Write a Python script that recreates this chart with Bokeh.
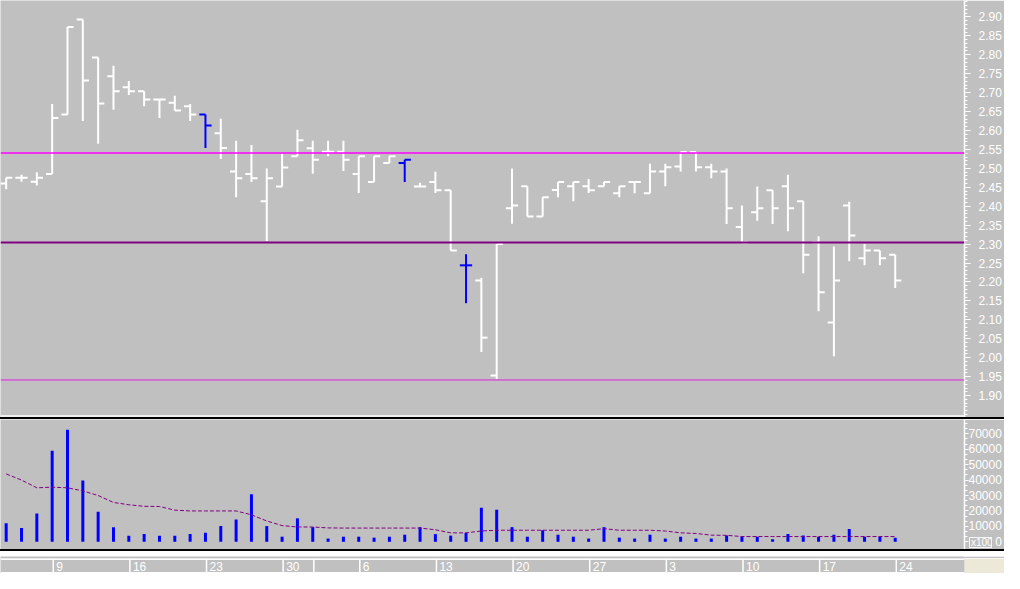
from bokeh.plotting import figure
from bokeh.layouts import column
from bokeh.models import (Range1d, Span, FixedTicker, PrintfTickFormatter, Div,
                          ColumnDataSource, CustomJSTickFormatter)
from bokeh.embed import file_html
from bokeh.resources import INLINE
from bokeh.core.properties import value

# ---------------- data ----------------
opens = [2.46, 2.475, 2.465, 2.485, 2.642, 2.893, 2.793, 2.743, 2.714, 2.704,
         2.682, 2.673, 2.664, 2.642, 2.593, 2.492, 2.485, 2.413, 2.452, 2.532,
         2.553, 2.544, 2.544, 2.485, 2.464, 2.514, 2.514, 2.452, 2.464, 2.442,
         2.244, 2.204, 1.953, 2.395, 2.453, 2.373, 2.443, 2.453, 2.453, 2.453,
         2.434, 2.464, 2.434, 2.492, 2.505, 2.543, 2.503, 2.492, 2.345, 2.384,
         2.442, 2.453, 2.413, 2.304, 2.093, 2.402, 2.263, 2.283, 2.272]
highs = [2.475, 2.483, 2.49, 2.67, 2.873, 2.893, 2.793, 2.771, 2.731, 2.704,
         2.682, 2.692, 2.670, 2.642, 2.631, 2.573, 2.562, 2.50, 2.539, 2.602,
         2.573, 2.573, 2.573, 2.532, 2.532, 2.532, 2.523, 2.462, 2.491, 2.442,
         2.273, 2.211, 2.30, 2.50, 2.453, 2.424, 2.464, 2.464, 2.472, 2.464,
         2.453, 2.464, 2.512, 2.512, 2.543, 2.543, 2.512, 2.50, 2.402, 2.452,
         2.442, 2.483, 2.413, 2.321, 2.294, 2.412, 2.30, 2.283, 2.272]
lows = [2.445, 2.465, 2.455, 2.485, 2.642, 2.625, 2.565, 2.655, 2.694, 2.664,
        2.633, 2.653, 2.625, 2.554, 2.525, 2.424, 2.464, 2.308, 2.452, 2.532,
        2.486, 2.532, 2.493, 2.435, 2.464, 2.514, 2.464, 2.452, 2.435, 2.283,
        2.144, 2.015, 1.944, 2.354, 2.373, 2.373, 2.424, 2.413, 2.435, 2.453,
        2.424, 2.434, 2.434, 2.453, 2.492, 2.492, 2.474, 2.353, 2.304, 2.362,
        2.353, 2.334, 2.223, 2.123, 2.004, 2.255, 2.244, 2.244, 2.184]
closes = [2.475, 2.475, 2.475, 2.633, 2.873, 2.732, 2.671, 2.704, 2.704, 2.682,
          2.682, 2.653, 2.642, 2.613, 2.554, 2.474, 2.474, 2.474, 2.502, 2.574,
          2.523, 2.544, 2.523, 2.532, 2.532, 2.532, 2.523, 2.452, 2.442, 2.283,
          2.244, 2.053, 2.30, 2.402, 2.373, 2.424, 2.464, 2.464, 2.442, 2.464,
          2.453, 2.464, 2.492, 2.503, 2.543, 2.503, 2.492, 2.395, 2.304, 2.395,
          2.395, 2.395, 2.272, 2.173, 2.204, 2.323, 2.283, 2.263, 2.204]
volumes = [12000, 9000, 18300, 59000, 72700, 39700, 19500, 9500, 4000, 5000,
           4000, 4000, 5000, 5800, 10200, 14500, 30800, 10200, 3300, 15200,
           9500, 2100, 3300, 3300, 2700, 3300, 4600, 9500, 5000, 4000,
           5800, 22000, 20800, 9500, 3300, 7500, 4600, 3300, 2100, 9500,
           2700, 2100, 4600, 2100, 3300, 2100, 2100, 4100, 3300, 3300,
           1600, 5000, 4100, 3300, 4600, 8300, 3300, 3300, 2700]
volume_avg = [44000, 40000, 35000, 35400, 35000, 33000, 30000, 25500, 24000, 23000,
              22900, 20500, 20000, 20000, 20000, 20000, 17500, 13500, 10500, 9600,
              9600, 9000, 8900, 8900, 8900, 8900, 8900, 8900, 7800, 5800,
              5800, 7000, 7500, 7500, 7500, 7500, 7500, 7500, 7500, 8500,
              7500, 7500, 7500, 7000, 5800, 5400, 4300, 4200, 3400, 3400,
              3400, 3400, 3400, 3400, 3400, 3400, 3400, 3400, 3400]
highlighted_bars = [13, 26, 30]
date_tick_index = [3, 8, 13, 18, 23, 28, 33, 38, 43, 48, 53, 58]
date_labels = ["9", "16", "23", "30", "6", "13", "20", "27", "3", "10", "17", "24"]
month_break_index = [20]
level_prices = [2.5406, 2.3043, 1.9412]
level_colors = ["#FF00FF", "#800080", "#E020E0"]
level_widths = [1.5, 2, 1]
price_ticks = [1.90, 1.95, 2.00, 2.05, 2.10, 2.15, 2.20, 2.25, 2.30, 2.35, 2.40,
               2.45, 2.50, 2.55, 2.60, 2.65, 2.70, 2.75, 2.80, 2.85, 2.90]
volume_ticks = [0, 10000, 20000, 30000, 40000, 50000, 60000, 70000]
volume_unit = "x100"

# ---------------- layout constants ----------------
BG = "#C0C0C0"
W = 1004
RB = 38
FW = W - RB
X0 = -0.371
X1 = X0 + FW / 15.36
FONT = "Liberation Sans"

idx = list(range(len(opens)))
colors = ["#0000FF" if i in highlighted_bars else "#FFFFFF" for i in idx]
src = ColumnDataSource(dict(x=idx, o=opens, h=highs, l=lows, c=closes,
                            xl=[i - 0.4 for i in idx], xr=[i + 0.4 for i in idx],
                            col=colors, v=volumes, ma=volume_avg))


def base_fig(h, y_range, bg=BG, border=BG, axis_right=False, x_range=None):
    f = figure(width=W, height=h, x_range=x_range if x_range is not None else Range1d(X0, X1),
               y_range=y_range, toolbar_location=None, output_backend="svg",
               x_axis_location=None, y_axis_location="right" if axis_right else None,
               background_fill_color=bg, border_fill_color=border,
               min_border_left=0, min_border_top=0, min_border_bottom=0, min_border_right=RB,
               outline_line_color=None)
    f.grid.visible = False
    return f


def black_rule():
    return Div(text="", width=W, height=2, margin=(0, 0, 0, 0),
               styles={"background-color": "black"})


def style_right_axis(ax, ticks, minor, tick_out, standoff):
    ax.ticker = FixedTicker(ticks=ticks, minor_ticks=minor)
    ax.axis_line_color = "white"
    ax.axis_line_width = 1.5
    ax.major_tick_line_color = "white"
    ax.minor_tick_line_color = "white"
    ax.major_tick_in = 0
    ax.minor_tick_in = 0
    ax.major_tick_out = tick_out
    ax.minor_tick_out = 3
    ax.major_label_text_color = "white"
    ax.major_label_text_font = FONT
    ax.major_label_text_font_size = "12px"
    ax.major_label_standoff = standoff


# ---------------- price panel ----------------
PH = 417
SCALE = 378.7
p_top = 2.90 + 16.4 / SCALE
p_bot = p_top - PH / SCALE
price = base_fig(PH, Range1d(p_bot, p_top), axis_right=True)
xr = price.x_range
minor_p = [round(1.84 + 0.01 * k, 2) for k in range(0, 112)]
style_right_axis(price.yaxis[0], price_ticks, minor_p, 6, 8)
price.yaxis[0].formatter = PrintfTickFormatter(format="%.2f")

for lp, lc, lw in zip(level_prices, level_colors, level_widths):
    price.add_layout(Span(location=lp, dimension="width", line_color=lc, line_width=lw))
price.add_layout(Span(location=p_top - 415.5 / SCALE, dimension="width",
                      line_color="white", line_width=1.5))

price.segment(x0="x", y0="l", x1="x", y1="h", source=src, line_color="col", line_width=2)
price.segment(x0="xl", y0="o", x1="x", y1="o", source=src, line_color="col", line_width=2)
price.segment(x0="x", y0="c", x1="xr", y1="c", source=src, line_color="col", line_width=2)

sep1 = black_rule()

# ---------------- volume panel ----------------
VH = 130
VTOP = 419
VSCALE = (541.3 - 433.3) / 70000.0
zero_y = 541.3 - VTOP
v_end = zero_y / VSCALE
v_start = -(VH - zero_y) / VSCALE
vol = base_fig(VH, Range1d(v_start, v_end), axis_right=True, x_range=xr)
minor_v = [k * 10000 / 3 for k in range(0, 25) if k % 3 != 0]
style_right_axis(vol.yaxis[0], volume_ticks, minor_v, 4, 0)
vol.yaxis[0].formatter = CustomJSTickFormatter(
    code='const s = String(Math.round(tick)); return "\\u2007".repeat(Math.max(0, 5 - s.length)) + s;')
vol.segment(x0="x", y0=0, x1="x", y1="v", source=src, line_color="#0000FF", line_width=3)
vol.line(x="x", y="ma", source=src, line_color="#800080", line_width=1, line_dash="4 2")

sep2 = black_rule()
gap = base_fig(7, Range1d(0, 1), x_range=xr)

# ---------------- date strip ----------------
DH = 15
dates = base_fig(DH, Range1d(DH, 0), border="#ECE9D8", x_range=xr)
dates.segment(x0=[X0, X0], y0=[0.75, 14.25], x1=[X1, X1], y1=[0.75, 14.25],
              line_color="white", line_width=1.5)
tick_x = [t + 0.07 for t in date_tick_index] + [m + 0.07 for m in month_break_index]
dates.segment(x0=tick_x, y0=[0] * len(tick_x), x1=tick_x, y1=[DH] * len(tick_x),
              line_color="white", line_width=1.5)
dates.text(x=[t + 0.07 + 3 / 15.36 for t in date_tick_index], y=[8] * len(date_labels),
           text=date_labels, text_color="white", text_font=value(FONT),
           text_font_size="12px", text_align="left", text_baseline="middle")

# unit box of the volume axis, laid over the axis area
unit_box = Div(text=volume_unit, width=23, height=11, margin=(0, 0, 0, 0),
               styles={"position": "absolute", "left": "969px", "top": "537px",
                       "border": "1px solid #F4F4F4", "color": "white",
                       "font-family": FONT, "font-size": "10px", "line-height": "9px",
                       "box-sizing": "border-box", "padding": "0px 1px",
                       "z-index": "10", "overflow": "hidden"})

layout = column(price, sep1, vol, sep2, gap, dates, unit_box, spacing=0)
open("out.html", "w").write(file_html(layout, INLINE))
